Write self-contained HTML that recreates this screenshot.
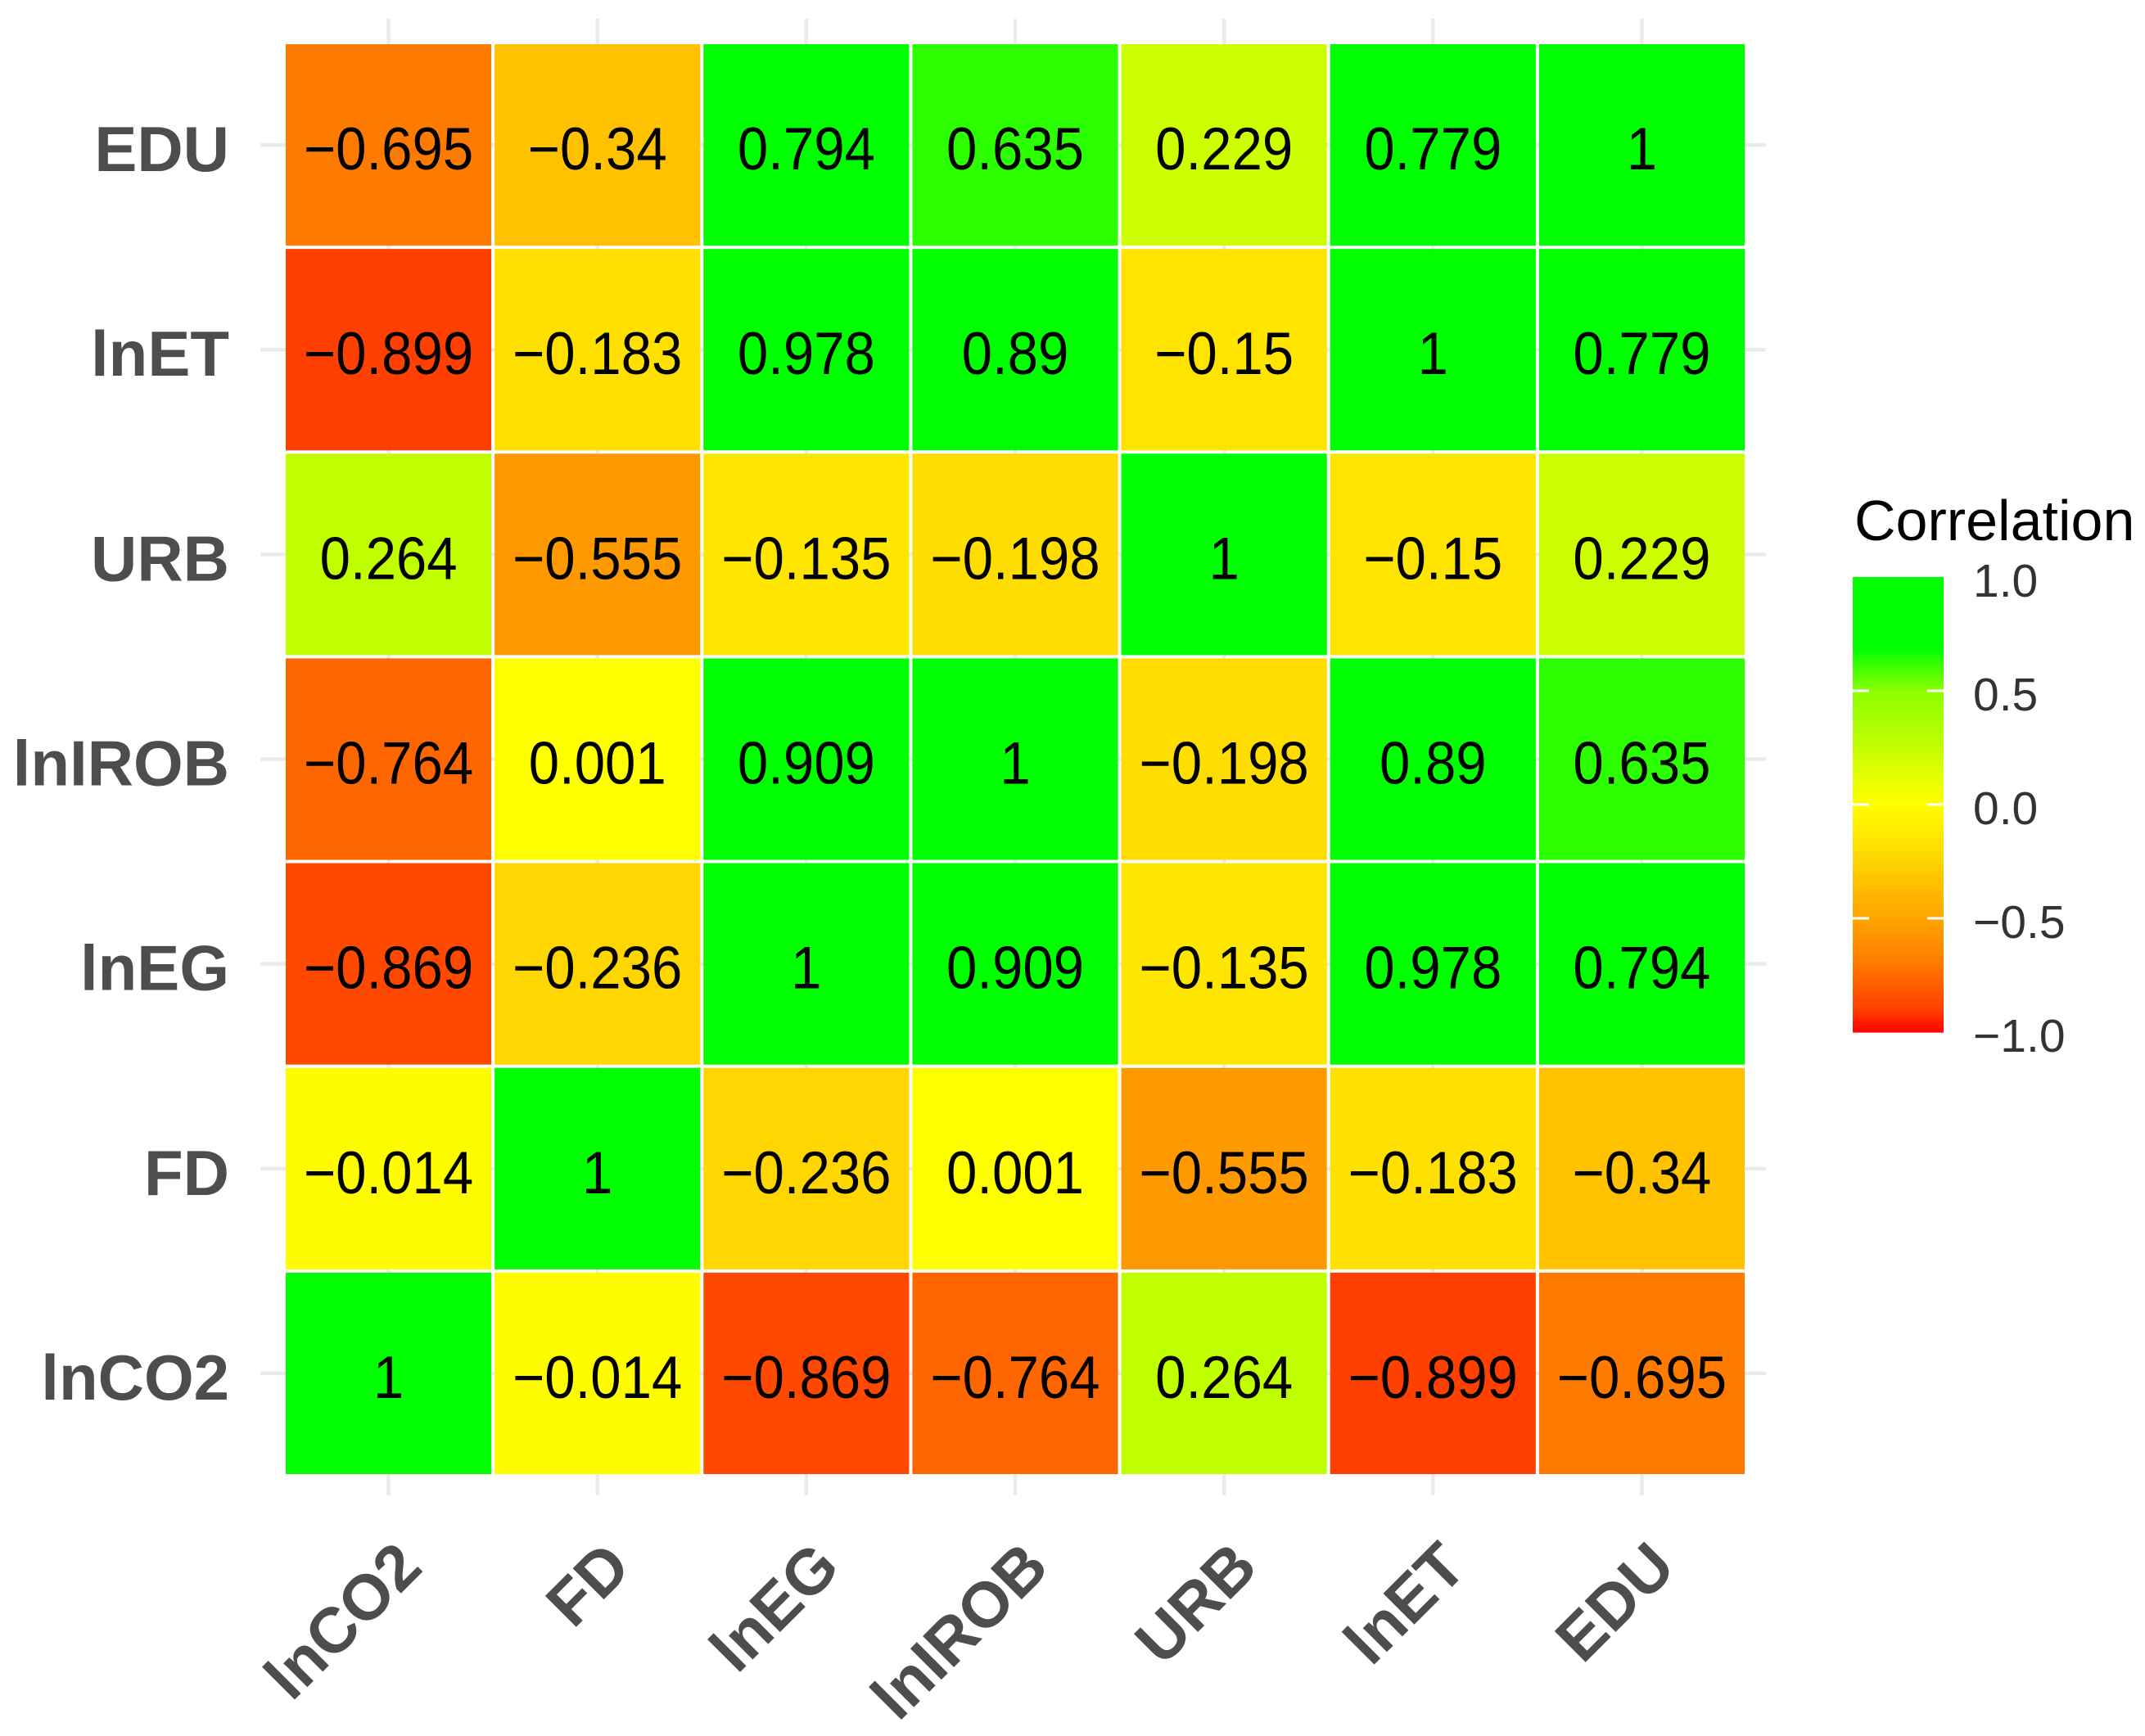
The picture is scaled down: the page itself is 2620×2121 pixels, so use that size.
<!DOCTYPE html>
<html><head><meta charset="utf-8"><style>
html,body{margin:0;padding:0;background:#fff;}
svg{display:block;}
</style></head><body>
<svg id="chart" width="2620" height="2121" viewBox="0 0 2620 2121" xmlns="http://www.w3.org/2000/svg">
<rect x="0" y="0" width="2620" height="2121" fill="#fff"/>
<g id="grid"></g>
<g id="tiles"></g>
<g id="ylabels"></g>
<g id="xlabels"></g>
<g id="legend">
<text x="2265" y="660" font-family="Liberation Sans, sans-serif" font-size="70" fill="#000">Correlation</text>
</g>
</svg>
<script>
const variables = ["lnCO2","FD","lnEG","lnIROB","URB","lnET","EDU"];
const row_lnCO2 = [1, -0.014, -0.869, -0.764, 0.264, -0.899, -0.695];
const row_FD = [-0.014, 1, -0.236, 0.001, -0.555, -0.183, -0.34];
const row_lnEG = [-0.869, -0.236, 1, 0.909, -0.135, 0.978, 0.794];
const row_lnIROB = [-0.764, 0.001, 0.909, 1, -0.198, 0.89, 0.635];
const row_URB = [0.264, -0.555, -0.135, -0.198, 1, -0.15, 0.229];
const row_lnET = [-0.899, -0.183, 0.978, 0.89, -0.15, 1, 0.779];
const row_EDU = [-0.695, -0.34, 0.794, 0.635, 0.229, 0.779, 1];
const legendTicks = [1.0, 0.5, 0.0, -0.5, -1.0];
const legendTickLabels = ["1.0","0.5","0.0","\u22120.5","\u22121.0"];

const rows = [row_lnCO2,row_FD,row_lnEG,row_lnIROB,row_URB,row_lnET,row_EDU];
const NS = "http://www.w3.org/2000/svg";
const X0 = 347, X1 = 2133, Y0 = 52, Y1 = 1803;
const n = variables.length;
const cw = (X1 - X0) / n, ch = (Y1 - Y0) / n;
function xCenter(i){ return X0 + (i + 0.5) * cw; }
function yCenter(j){ return Y1 - (j + 0.5) * ch; } // j=0 bottom
const LY1 = 705, LY0 = 1261;
function yLegend(v){ return LY0 + (v + 1) / 2 * (LY1 - LY0); }

const negStops = [[-1,0],[-0.899,64],[-0.764,102],[-0.695,123],[-0.555,153],[-0.34,193],[-0.183,224],[-0.135,230],[0,255]];
const posStops = [[0,255],[0.229,204],[0.264,192],[0.5,140],[0.635,43],[0.69,0],[1,0]];
function interp(stops, v){
  if (v <= stops[0][0]) return stops[0][1];
  for (let k = 1; k < stops.length; k++){
    if (v <= stops[k][0]){
      const a = stops[k-1], b = stops[k];
      return a[1] + (b[1]-a[1]) * (v - a[0]) / (b[0] - a[0]);
    }
  }
  return stops[stops.length-1][1];
}
function colorFor(v){
  if (v < 0){ const g = Math.round(interp(negStops, v)); return `rgb(255,${g},0)`; }
  const r = Math.round(interp(posStops, v)); return `rgb(${r},255,0)`;
}
function mk(tag, attrs, parent){
  const e = document.createElementNS(NS, tag);
  for (const k in attrs) e.setAttribute(k, attrs[k]);
  parent.appendChild(e); return e;
}
function fmt(v){ return (v < 0 ? "\u2212" : "") + String(Math.abs(v)); }

const grid = document.getElementById("grid");
for (let i = 0; i < n; i++){
  const l = mk("line", {x1:xCenter(i), x2:xCenter(i), y1:23, y2:1827, stroke:"#EBEBEB", "stroke-width":4.5}, grid);
  
  
  const h = mk("line", {x1:318, x2:2157, y1:yCenter(i), y2:yCenter(i), stroke:"#EBEBEB", "stroke-width":4.5}, grid);
  
  
}

const tiles = document.getElementById("tiles");
for (let j = 0; j < n; j++){
  for (let i = 0; i < n; i++){
    const v = rows[j][i];
    const r = mk("rect", {x:X0 + i*cw + 2, y:Y1 - (j+1)*ch + 2, width:cw - 4, height:ch - 4, fill:colorFor(v)}, tiles);
    
    
    const t = mk("text", {transform:`translate(${xCenter(i)},${yCenter(j)+30}) scale(0.92,1)`, "text-anchor":"middle", "font-family":"Liberation Sans, sans-serif", "font-size":73, fill:"#000"}, tiles);
    t.textContent = fmt(v);
    
    
  }
}

const yl = document.getElementById("ylabels");
const xl = document.getElementById("xlabels");
for (let i = 0; i < n; i++){
  const t = mk("text", {x:280, y:yCenter(i)+32, "text-anchor":"end", "font-family":"Liberation Sans, sans-serif", "font-weight":"bold", "font-size":78, fill:"#4D4D4D"}, yl);
  t.textContent = variables[i];
  
  
  const u = mk("text", {transform:`translate(${xCenter(i)+44},1918) rotate(-45)`, "text-anchor":"end", "font-family":"Liberation Sans, sans-serif", "font-weight":"bold", "font-size":78, fill:"#4D4D4D"}, xl);
  u.textContent = variables[i];
  
  
}

const lg = document.getElementById("legend");
const steps = 200;
for (let s = 0; s < steps; s++){
  const v0 = -1 + 2*s/steps, v1 = -1 + 2*(s+1)/steps;
  const r = mk("rect", {x:2263, y:yLegend(v1), width:111, height:yLegend(v0)-yLegend(v1)+0.6, fill:colorFor((v0+v1)/2)}, lg);
  
  
}
for (let k = 0; k < legendTicks.length; k++){
  const y = yLegend(legendTicks[k]);
  if (Math.abs(legendTicks[k]) < 1){
    const a = mk("line", {x1:2263, x2:2283, y1:y, y2:y, stroke:"#fff", "stroke-width":3}, lg);
    
    
    const b = mk("line", {x1:2354, x2:2374, y1:y, y2:y, stroke:"#fff", "stroke-width":3}, lg);
    
    
  }
  const t = mk("text", {x:2410, y:y+24, "font-family":"Liberation Sans, sans-serif", "font-size":57, fill:"#333"}, lg);
  t.textContent = legendTickLabels[k];
  
  
}
</script>
</body></html>
